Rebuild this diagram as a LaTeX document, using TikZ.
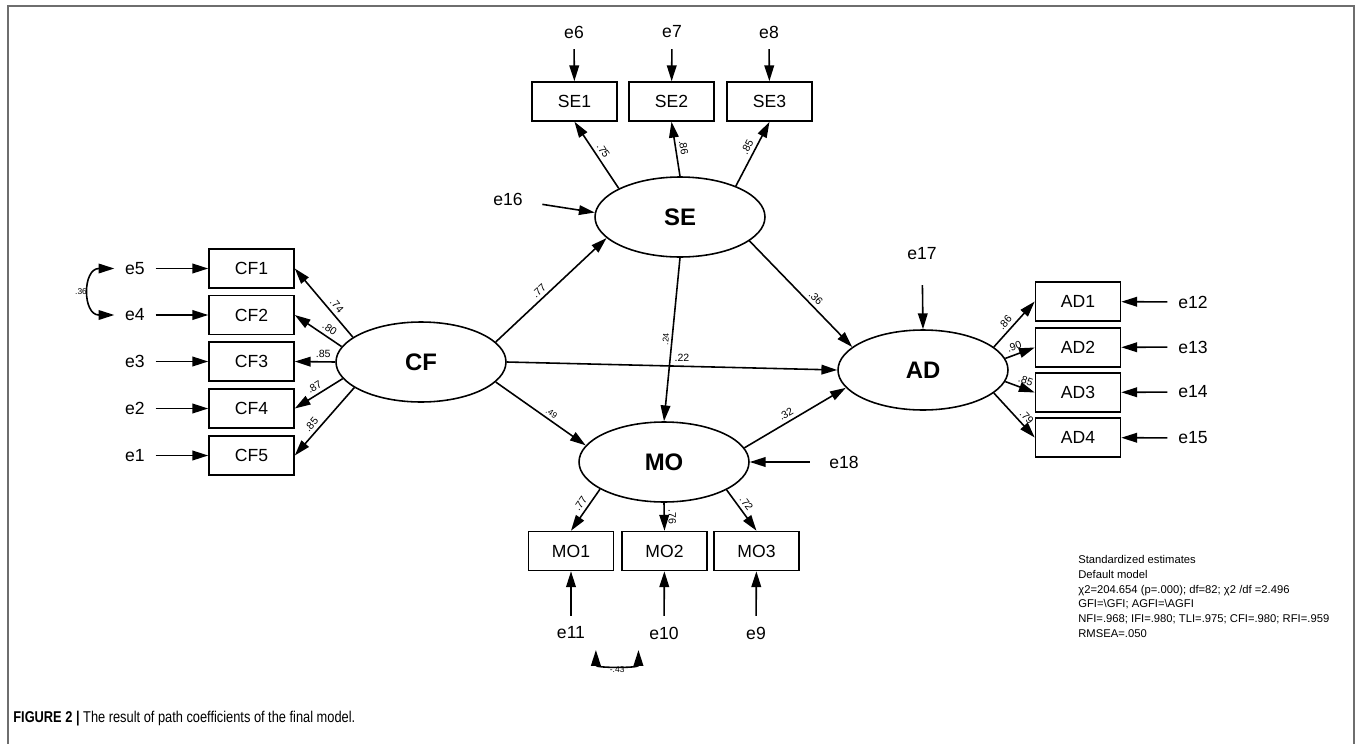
\documentclass[tikz,border=0pt]{standalone}
\usepackage{fontspec}
\setmainfont{Liberation Sans}
\newfontfamily\capfont[FakeStretch=0.82]{Liberation Sans}
\usepackage{tikz}
\usetikzlibrary{shapes.geometric, arrows.meta, positioning}
\definecolor{framegray}{RGB}{110,110,110}
\tikzset{
  latent/.style={ellipse, draw, line width=0.9pt, minimum width=3.4cm,
    minimum height=1.6cm, inner sep=0pt, font=\fontsize{13.6}{16}\selectfont\bfseries},
  obsbox/.style={rectangle, draw, line width=0.9pt, minimum width=1.7cm,
    minimum height=0.78cm, inner sep=0pt, font=\fontsize{10}{12}\selectfont},
  errlab/.style={inner sep=6pt, font=\fontsize{10}{12}\selectfont},
  arrow/.style={-{Triangle[length=9pt,width=5.5pt]}, line width=0.9pt},
  covarrow/.style={{Triangle[length=9pt,width=5.5pt]}-{Triangle[length=9pt,width=5.5pt]}, line width=0.9pt},
  coef/.style={font=\fontsize{6}{7}\selectfont, inner sep=2pt},
  coefsmall/.style={font=\fontsize{4.8}{6}\selectfont, inner sep=1.5pt}
}

\begin{document}
\begin{tikzpicture}[x=0.02cm, y=-0.02cm]
  \useasboundingbox (0,0) rectangle (1357,744);
  % Frame
  \draw[framegray, line width=1.1pt] (8,744) -- (8,6) -- (1354,6) -- (1354,744);

  % Latent variables
  \node[latent] (cf) at (421,362) {CF};
  \node[latent] (se) at (680,217) {SE};
  \node[latent] (mo) at (664,462) {MO};
  \node[latent] (ad) at (923,370) {AD};

  % Indicators
  \node[obsbox] (cf1) at (251.5,268.5) {CF1};
  \node[obsbox] (cf2) at (251.5,315) {CF2};
  \node[obsbox] (cf3) at (251.5,361.5) {CF3};
  \node[obsbox] (cf4) at (251.5,408.5) {CF4};
  \node[obsbox] (cf5) at (251.5,455.5) {CF5};
  \node[obsbox] (se1) at (574.5,101.5) {SE1};
  \node[obsbox] (se2) at (671.5,101.5) {SE2};
  \node[obsbox] (se3) at (769.5,101.5) {SE3};
  \node[obsbox] (mo1) at (571,551) {MO1};
  \node[obsbox] (mo2) at (664.5,551) {MO2};
  \node[obsbox] (mo3) at (756.5,551) {MO3};
  \node[obsbox] (ad1) at (1078,301.5) {AD1};
  \node[obsbox] (ad2) at (1078,347.5) {AD2};
  \node[obsbox] (ad3) at (1078,392.5) {AD3};
  \node[obsbox] (ad4) at (1078,437.5) {AD4};

  % Error terms
  \node[errlab] (e5) at (135,268.5) {e5};
  \node[errlab] (e4) at (135,315) {e4};
  \node[errlab] (e3) at (135,361.5) {e3};
  \node[errlab] (e2) at (135,408.5) {e2};
  \node[errlab] (e1) at (135,455.5) {e1};
  \node[errlab] (e6) at (574,32) {e6};
  \node[errlab] (e7) at (672,32) {e7};
  \node[errlab] (e8) at (769,32) {e8};
  \node[errlab] (e11) at (571,633) {e11};
  \node[errlab] (e10) at (664,633) {e10};
  \node[errlab] (e9) at (756,633) {e9};
  \node[errlab] (e12) at (1193,302) {e12};
  \node[errlab] (e13) at (1193,347) {e13};
  \node[errlab] (e14) at (1193,392) {e14};
  \node[errlab] (e15) at (1193,438) {e15};
  \node[errlab, inner sep=11pt] (e16) at (508,199) {e16};
  \node[errlab, inner sep=14pt] (e17) at (922,254) {e17};
  \node[errlab, inner sep=11pt] (e18) at (844,462) {e18};

  % Error arrows
  \draw[arrow] (e5) -- (cf1);
  \draw[arrow] (e4) -- (cf2);
  \draw[arrow] (e3) -- (cf3);
  \draw[arrow] (e2) -- (cf4);
  \draw[arrow] (e1) -- (cf5);
  \draw[arrow] (e6) -- (se1);
  \draw[arrow] (e7) -- (se2);
  \draw[arrow] (e8) -- (se3);
  \draw[arrow] (e11) -- (mo1);
  \draw[arrow] (e10) -- (mo2);
  \draw[arrow] (e9) -- (mo3);
  \draw[arrow] (e12) -- (ad1);
  \draw[arrow] (e13) -- (ad2);
  \draw[arrow] (e14) -- (ad3);
  \draw[arrow] (e15) -- (ad4);
  \draw[arrow] (e16) -- (se.177);
  \draw[arrow] (e17) -- (ad.north);
  \draw[arrow] (e18) -- (mo);

  % Covariances
  \draw[covarrow] (e5.west) .. controls +(-32,0) and +(-32,0) .. (e4.west)
    node[coefsmall, pos=0.5, left] {.36};
  \draw[covarrow] (e11.south east) .. controls +(0,18) and +(0,18) .. (e10.south west)
    node[coefsmall, pos=0.5, below] {-.43};

  % Loadings
  \draw[arrow] (cf.160) -- (cf1.east) node[coef, pos=0.38, sloped, above] {.74};
  \draw[arrow] (cf.169) -- (cf2.east) node[coef, pos=0.35, sloped, above] {.80};
  \draw[arrow] (cf.west) -- (cf3.east) node[coef, pos=0.3, sloped, above] {.85};
  \draw[arrow] (cf.192) -- (cf4.east) node[coef, pos=0.5, sloped, above] {.87};
  \draw[arrow] (cf.201) -- (cf5.east) node[coef, pos=0.62, sloped, above] {.85};
  \draw[arrow] (se.155) -- (se1.south) node[coef, pos=0.5, sloped, above] {.75};
  \draw[arrow] (se.north) -- (se2.south) node[coef, pos=0.5, sloped, above] {.86};
  \draw[arrow] (se.29) -- (se3.south) node[coef, pos=0.55, sloped, above] {.85};
  \draw[arrow] (mo.203) -- (mo1.north) node[coef, pos=0.45, sloped, above] {.77};
  \draw[arrow] (mo.south) -- (mo2.north) node[coef, pos=0.5, sloped, above] {.76};
  \draw[arrow] (mo.336) -- (mo3.north) node[coef, pos=0.45, sloped, above] {.72};
  \draw[arrow] (ad.18) -- (ad1.west) node[coef, pos=0.42, sloped, above] {.86};
  \draw[arrow] (ad.8) -- (ad2.west) node[coef, pos=0.4, sloped, above] {.90};
  \draw[arrow] (ad.352) -- (ad3.west) node[coef, pos=0.6, sloped, above] {.85};
  \draw[arrow] (ad.342) -- (ad4.west) node[coef, pos=0.66, sloped, above] {.79};

  % Structural paths
  \draw[arrow] (cf.15) -- (se.196) node[coef, pos=0.44, sloped, above] {.77};
  \draw[arrow] (cf.east) -- (ad.west) node[coef, pos=0.53, above] {.22};
  \draw[arrow] (cf.345) -- (mo.168) node[coefsmall, pos=0.58, sloped, above] {.49};
  \draw[arrow] (se.south) -- (mo.north) node[coefsmall, pos=0.5, sloped, above] {.24};
  \draw[arrow] (se.341) -- (ad.162.5) node[coef, pos=0.59, sloped, above] {.36};
  \draw[arrow] (mo.10.5) -- (ad.193) node[coef, pos=0.45, sloped, above] {.32};

  % Fit statistics
  \node[anchor=north west, inner sep=0pt, align=left, font=\fontsize{6.4}{8.4}\selectfont] (stats) at (1078,555)
    {Standardized estimates\\Default model\\χ2=204.654 (p=.000); df=82; χ2 /df =2.496\\GFI=\textbackslash GFI; AGFI=\textbackslash AGFI\\NFI=.968; IFI=.980; TLI=.975; CFI=.980; RFI=.959\\RMSEA=.050};

  % Caption
  \node[anchor=west, inner sep=0pt, font=\capfont\fontsize{8.9}{11}\selectfont] (caption) at (13,719)
    {\textbf{FIGURE 2 |} The result of path coefficients of the final model.};
\end{tikzpicture}
\end{document}
